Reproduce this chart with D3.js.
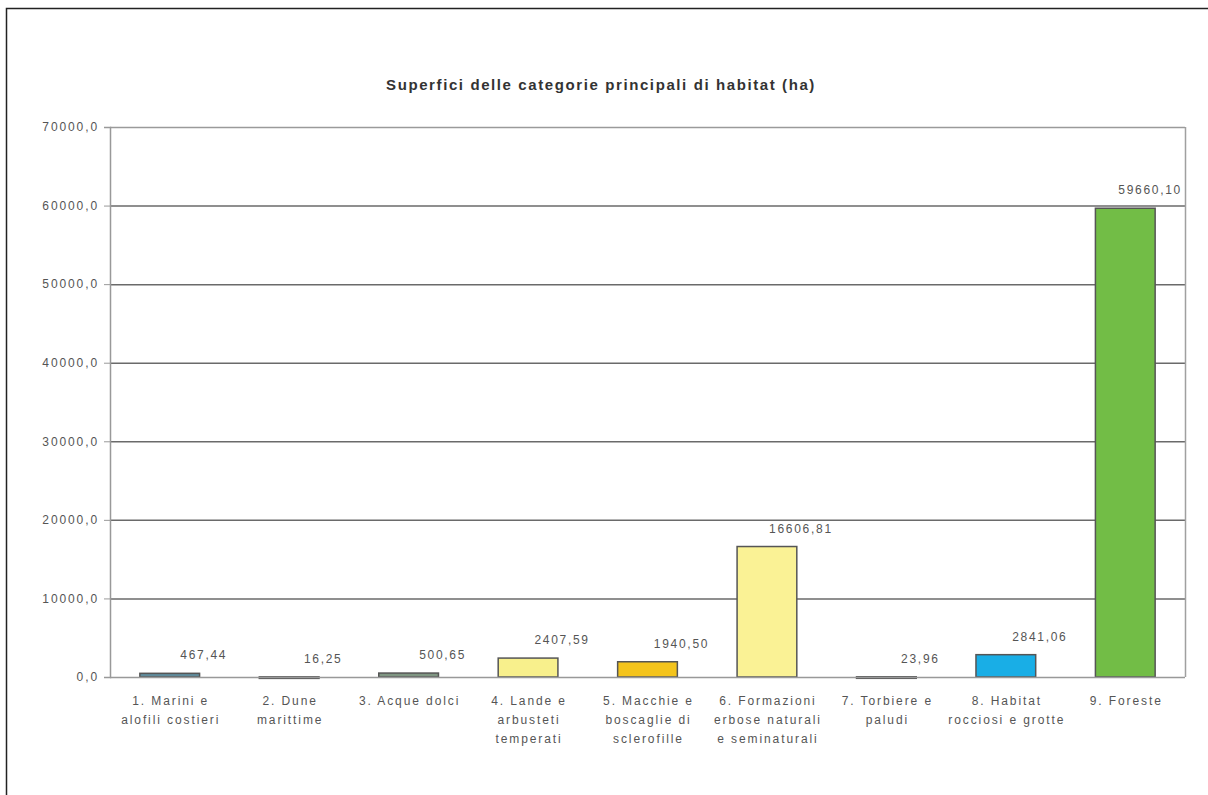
<!DOCTYPE html>
<html>
<head>
<meta charset="utf-8">
<script src="https://cdn.jsdelivr.net/npm/d3@7"></script>
<style>
	body { margin: 0; background: #fff; }
	svg { font-family: "Liberation Sans", Arial, sans-serif; }
</style>
</head>
<body>
<div id="chart"></div>
<script>
// data
var categories = [
	["1. Marini e", "alofili costieri"],
	["2. Dune", "marittime"],
	["3. Acque dolci"],
	["4. Lande e", "arbusteti", "temperati"],
	["5. Macchie e", "boscaglie di", "sclerofille"],
	["6. Formazioni", "erbose naturali", "e seminaturali"],
	["7. Torbiere e", "paludi"],
	["8. Habitat", "rocciosi e grotte"],
	["9. Foreste"]
];
var values = [467.44, 16.25, 500.65, 2407.59, 1940.50, 16606.81, 23.96, 2841.06, 59660.10];
var barColors = ["#5f8b9b", "#a9b0b4", "#7f9682", "#f8f08c", "#f4c41c", "#faf295", "#a4a9ad", "#19aee6", "#72bd46"];
var yTicks = [0, 10000, 20000, 30000, 40000, 50000, 60000, 70000];

var width = 1208, height = 795;
var plotLeft = 110, plotRight = 1185, plotTop = 127, plotBottom = 677;

var svg = d3.select("#chart").append("svg")
	.attr("width", width)
	.attr("height", height);

// outer frame
svg.append("rect")
	.attr("x", 6.5).attr("y", 8.5)
	.attr("width", width).attr("height", height)
	.attr("fill", "none").attr("stroke", "#222").attr("stroke-width", 1.5);

svg.append("text")
	.attr("x", 601).attr("y", 90)
	.attr("text-anchor", "middle")
	.attr("font-size", 15).attr("font-weight", "bold").attr("fill", "#333")
	.attr("letter-spacing", 1.6)
	.text("Superfici delle categorie principali di habitat (ha)");

var x = d3.scaleBand().domain(d3.range(values.length)).range([plotLeft, plotRight]).paddingInner(0.5).paddingOuter(0.25);
var y = d3.scaleLinear().domain([0, 70000]).range([plotBottom, plotTop]);

var fmt = function(v, n) { return v.toFixed(n).replace(".", ","); };

// gridlines
svg.append("g").selectAll("line")
	.data(yTicks.filter(function(d) { return d > 0; }))
	.join("line")
	.attr("x1", plotLeft).attr("x2", plotRight)
	.attr("y1", function(d) { return y(d) + 0.5; })
	.attr("y2", function(d) { return y(d) + 0.5; })
	.attr("stroke", function(d) { return d == 70000 ? "#9a9a9a" : "#6a6a6a"; })
	.attr("stroke-width", 1.5);

// right side of plot area
svg.append("line")
	.attr("x1", plotRight + 0.5).attr("x2", plotRight + 0.5)
	.attr("y1", plotTop).attr("y2", plotBottom)
	.attr("stroke", "#a0a0a0").attr("stroke-width", 1.5);

// y axis
var yAxis = svg.append("g")
	.attr("transform", "translate(" + plotLeft + ",0)")
	.call(d3.axisLeft(y).tickValues(yTicks).tickSize(6).tickPadding(5).tickFormat(function(d) { return fmt(d, 1); }));
yAxis.select(".domain").attr("stroke", "#999").attr("stroke-width", 1.5);
yAxis.selectAll(".tick line").attr("stroke", "#999");
yAxis.selectAll("text")
	.attr("font-size", 12).attr("fill", "#555")
	.attr("letter-spacing", 1.9)
	.attr("font-family", "Liberation Sans, Arial, sans-serif");

// bars
svg.append("g").selectAll("rect")
	.data(values)
	.join("rect")
	.attr("x", function(d, i) { return x(i); })
	.attr("y", function(d) { return y(d); })
	.attr("width", x.bandwidth())
	.attr("height", function(d) { return Math.max(plotBottom - y(d), 1.5); })
	.attr("fill", function(d, i) { return barColors[i]; })
	.attr("stroke", "#555")
	.attr("stroke-width", 1.5);

// x axis line
svg.append("line")
	.attr("x1", plotLeft).attr("x2", plotRight)
	.attr("y1", plotBottom + 0.5).attr("y2", plotBottom + 0.5)
	.attr("stroke", "#999").attr("stroke-width", 1.5);

// value labels, kept inside the plot on the right
svg.append("g").selectAll("text")
	.data(values)
	.join("text")
	.attr("x", function(d, i) { return x(i) + x.bandwidth() / 2 + 34; })
	.attr("y", function(d) { return y(d) - 14; })
	.attr("text-anchor", "middle")
	.attr("font-size", 12).attr("fill", "#555")
	.attr("letter-spacing", 1.7)
	.text(function(d) { return fmt(d, 2); })
	.each(function() {
		var b = this.getBBox();
		if (b.x + b.width > plotRight - 3) {
			d3.select(this).attr("x", +d3.select(this).attr("x") - (b.x + b.width - plotRight + 3));
		}
	});

// category labels
var cat = svg.append("g").selectAll("text")
	.data(categories)
	.join("text")
	.attr("text-anchor", "middle")
	.attr("font-size", 12).attr("fill", "#555")
	.attr("letter-spacing", 1.9);
cat.selectAll("tspan")
	.data(function(d, i) { return d.map(function(s) { return { s: s, i: i }; }); })
	.join("tspan")
	.attr("x", function(d) { return x(d.i) + x.bandwidth() / 2 + 1; })
	.attr("y", function(d, j) { return 704.5 + j * 19; })
	.text(function(d) { return d.s; });
</script>
</body>
</html>
